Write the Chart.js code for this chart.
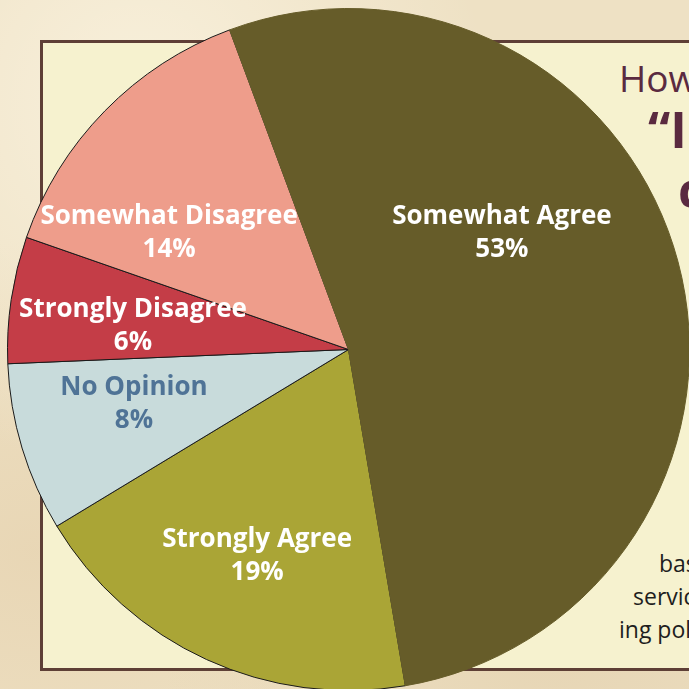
<!DOCTYPE html>
<html>
<head>
<meta charset="utf-8">
<script src="https://cdn.jsdelivr.net/npm/chart.js@4.4.1/dist/chart.umd.min.js"></script>
<style>
  html, body { margin:0; padding:0; width:689px; height:689px; overflow:hidden; }
  body {
    position:relative;
    background:
      radial-gradient(ellipse at 20% 15%, rgba(255,250,235,0.6), rgba(255,250,235,0) 45%),
      radial-gradient(ellipse at 80% 90%, rgba(225,205,170,0.6), rgba(225,205,170,0) 50%),
      radial-gradient(ellipse at 5% 80%, rgba(230,210,175,0.7), rgba(230,210,175,0) 40%),
      #eee1c4;
  }
  #box {
    position:absolute; left:40px; top:40px; width:700px; height:625px;
    background:#f6f2cf; border:3px solid #5e3f36; box-sizing:content-box;
  }
  #wrap { position:absolute; left:7px; top:8px; width:683px; height:683px; }
  .t { position:absolute; white-space:nowrap; font-family:"Open Sans", sans-serif; }
  #how { left:619px; top:52px; font-size:37px; color:#5a2a40; font-weight:400; }
  #q { left:648px; top:95px; font-size:50px; color:#5a2a40; font-weight:700; }
  #c { left:678px; top:155px; font-size:50px; color:#5a2a40; font-weight:700; }
  .b { font-size:23px; color:#1e1e1e; }
</style>
</head>
<body>
<div id="box"></div>
<div class="t" id="how">How</div>
<div class="t" id="q">“I</div>
<div class="t" id="c">c</div>
<div class="t b" style="left:659px; top:547px;">based</div>
<div class="t b" style="left:633px; top:580px;">services</div>
<div class="t b" style="left:619px; top:613px;">ing policy</div>
<div id="wrap"><canvas id="c1" width="683" height="683"></canvas></div>
<script>
// order: clockwise starting at the bottom edge of "Strongly Agree"
const categories = ["Strongly Agree", "No Opinion", "Strongly Disagree", "Somewhat Disagree", "Somewhat Agree"];
const values = [19, 8, 6, 14, 53];
const percentLabels = ["19%", "8%", "6%", "14%", "53%"];

const sliceColors = ["#aaa536", "#c8dbdb", "#c43d47", "#ee9d8b", "#665c29"];
const sliceBorders = ["#1a1a1a", "#1a1a1a", "#1a1a1a", "#1a1a1a", "#665c29"];
const labelColors = ["#ffffff", "#4f7396", "#ffffff", "#ffffff", "#ffffff"];
// label block centre, as a fraction of the pie radius from its centre
const labelOffsets = [[-0.268,0.603],[-0.629,0.159],[-0.632,-0.071],[-0.526,-0.344],[0.45,-0.344]];

const labelPlugin = {
  id: 'sliceLabels',
  afterDatasetsDraw(chart) {
    const ctx = chart.ctx;
    const meta = chart.getDatasetMeta(0);
    ctx.save();
    ctx.font = '700 26px "Open Sans", sans-serif';
    ctx.textAlign = 'center';
    ctx.textBaseline = 'middle';
    meta.data.forEach((arc, i) => {
      const r = arc.outerRadius;
      const x = arc.x + labelOffsets[i][0] * r;
      const y = arc.y + labelOffsets[i][1] * r;
      ctx.fillStyle = labelColors[i];
      ctx.fillText(categories[i], x, y - 16);
      ctx.fillText(percentLabels[i], x, y + 17);
    });
    ctx.restore();
  }
};

new Chart(document.getElementById('c1'), {
  type: 'pie',
  data: {
    labels: categories,
    datasets: [{
      data: values,
      backgroundColor: sliceColors,
      borderColor: sliceBorders,
      borderWidth: 1
    }]
  },
  options: {
    responsive: false,
    animation: false,
    rotation: 170.4,
    layout: { padding: 0 },
    plugins: { legend: { display: false }, tooltip: { enabled: false } }
  },
  plugins: [labelPlugin]
});
</script>
</body>
</html>
